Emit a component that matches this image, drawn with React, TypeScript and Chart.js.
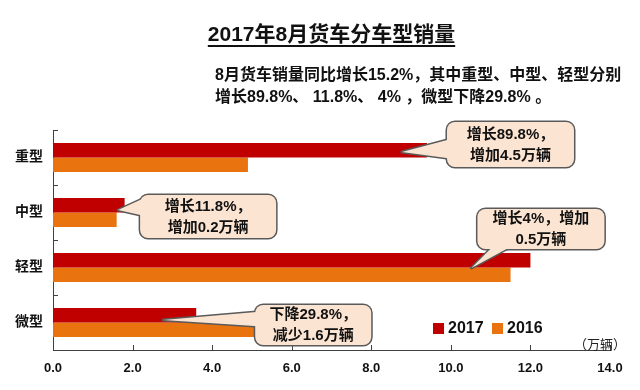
import { useEffect, useRef } from "react";
import { Chart, registerables } from "chart.js";

Chart.register(...registerables);

// ---------- data ----------
const categories = ["重型", "中型", "轻型", "微型"];
const seriesLabels = ["2017", "2016"];
const sales2017 = [9.4, 1.8, 12.0, 3.6];
const sales2016 = [4.9, 1.6, 11.5, 5.2];
const xTickValues = [0, 2, 4, 6, 8, 10, 12, 14];
const titleText = "2017年8月货车分车型销量";
const subtitleLines = [
  "8月货车销量同比增长15.2%，其中重型、中型、轻型分别",
  "增长89.8%、 11.8%、 4% ，微型下降29.8% 。",
];
const calloutTexts = [
  ["增长89.8%，", "增加4.5万辆"],
  ["增长11.8%，", "增加0.2万辆"],
  ["增长4%，增加", "0.5万辆"],
  ["下降29.8%，", "减少1.6万辆"],
];
const unitLabel = "（万辆）";

// ---------- styles / layout ----------
const RED = "#C00000";
const ORANGE = "#E8730F";
const AXIS = "#404040";
const CALLOUT_FILL = "#FBE4D2";
const CALLOUT_BORDER = "#5A5A5A";
const FONT = "'Liberation Sans', 'Noto Sans CJK SC', sans-serif";

// callout geometry: tip relative to (bar end, band center); box relative to tip;
// tail base points relative to box (side, offsets along side)
const calloutLayout = [
  { tip: [-25, -5.5], box: [45, -30, 127, 45], side: "left", base: [18, 36] },
  { tip: [-6.5, -2.5], box: [22, -15, 136, 43], side: "left", base: [5, 20] },
  { tip: [-59, 0.5], box: [6, -59, 127, 40], side: "bottom", base: [13, 29] },
  { tip: [-33, -2.5], box: [92, -15, 116, 40], side: "left", base: [7, 21] },
];

function roundRectPath(ctx: CanvasRenderingContext2D, x: number, y: number, w: number, h: number, r: number) {
  ctx.beginPath();
  ctx.moveTo(x + r, y);
  ctx.lineTo(x + w - r, y);
  ctx.arcTo(x + w, y, x + w, y + r, r);
  ctx.lineTo(x + w, y + h - r);
  ctx.arcTo(x + w, y + h, x + w - r, y + h, r);
  ctx.lineTo(x + r, y + h);
  ctx.arcTo(x, y + h, x, y + h - r, r);
  ctx.lineTo(x, y + r);
  ctx.arcTo(x, y, x + r, y, r);
  ctx.closePath();
}

function drawCallout(
  ctx: CanvasRenderingContext2D,
  tip: { x: number; y: number },
  box: { x: number; y: number; w: number; h: number },
  b1: { x: number; y: number },
  b2: { x: number; y: number },
  lines: string[]
) {
  const ext = (p: { x: number; y: number }) => {
    const dx = p.x - tip.x;
    const dy = p.y - tip.y;
    const L = Math.hypot(dx, dy) || 1;
    return { x: p.x + (dx / L) * 7, y: p.y + (dy / L) * 7 };
  };
  const e1 = ext(b1);
  const e2 = ext(b2);
  const tail = () => {
    ctx.beginPath();
    ctx.moveTo(e1.x, e1.y);
    ctx.lineTo(tip.x, tip.y);
    ctx.lineTo(e2.x, e2.y);
    ctx.closePath();
  };
  ctx.save();
  ctx.lineJoin = "round";
  ctx.strokeStyle = CALLOUT_BORDER;
  ctx.lineWidth = 3;
  roundRectPath(ctx, box.x, box.y, box.w, box.h, 8);
  ctx.stroke();
  tail();
  ctx.stroke();
  ctx.fillStyle = CALLOUT_FILL;
  roundRectPath(ctx, box.x, box.y, box.w, box.h, 8);
  ctx.fill();
  tail();
  ctx.fill();

  ctx.fillStyle = "#111";
  ctx.font = `bold 15px ${FONT}`;
  ctx.textAlign = "center";
  ctx.textBaseline = "middle";
  const cx = box.x + box.w / 2;
  const cy = box.y + box.h / 2 + 0.5;
  const lh = 21;
  lines.forEach((t, i) => {
    ctx.fillText(t, cx, cy + (i - (lines.length - 1) / 2) * lh);
  });
  ctx.restore();
}

const overlayPlugin = {
  id: "overlay",
  afterDraw(chart: any) {
    const ctx: CanvasRenderingContext2D = chart.ctx;
    const xs = chart.scales.x;
    const ys = chart.scales.y;
    const area = chart.chartArea;

    ctx.save();
    // inner tick marks
    ctx.strokeStyle = AXIS;
    ctx.lineWidth = 1;
    ctx.beginPath();
    xTickValues.forEach((v) => {
      if (v === 0) return;
      const x = Math.round(xs.getPixelForValue(v)) + 0.5;
      ctx.moveTo(x, area.bottom);
      ctx.lineTo(x, area.bottom - 5);
    });
    const band = ys.getPixelForValue(1) - ys.getPixelForValue(0);
    categories.forEach((_, i) => {
      const y = Math.round(ys.getPixelForValue(i) - band / 2) + 0.5;
      ctx.moveTo(area.left, y);
      ctx.lineTo(area.left + 5, y);
    });
    ctx.stroke();
    ctx.restore();

    // callouts
    calloutTexts.forEach((lines, i) => {
      const L = calloutLayout[i];
      const endX = xs.getPixelForValue(sales2017[i]);
      const cy = ys.getPixelForValue(i);
      const tip = { x: endX + L.tip[0], y: cy + L.tip[1] };
      const box = { x: tip.x + L.box[0], y: tip.y + L.box[1], w: L.box[2], h: L.box[3] };
      let b1, b2;
      if (L.side === "left") {
        b1 = { x: box.x, y: box.y + L.base[0] };
        b2 = { x: box.x, y: box.y + L.base[1] };
      } else {
        b1 = { x: box.x + L.base[0], y: box.y + box.h };
        b2 = { x: box.x + L.base[1], y: box.y + box.h };
      }
      drawCallout(ctx, tip, box, b1, b2, lines);
    });

    ctx.save();
    // legend
    const colors = [RED, ORANGE];
    const legendX = [area.right - 177, area.right - 118];
    const legendY = area.bottom - 27;
    ctx.font = `bold 16px ${FONT}`;
    ctx.textBaseline = "middle";
    ctx.textAlign = "left";
    seriesLabels.forEach((lab, i) => {
      ctx.fillStyle = colors[i];
      ctx.fillRect(legendX[i], legendY, 11, 11);
      ctx.fillStyle = "#111";
      ctx.fillText(lab, legendX[i] + 15, legendY + 6);
    });

    // unit label
    ctx.font = `13px ${FONT}`;
    ctx.textAlign = "center";
    ctx.fillStyle = "#222";
    ctx.fillText(unitLabel, area.right - 10, area.bottom - 5);

    // title
    ctx.font = `bold 21px ${FONT}`;
    ctx.textAlign = "center";
    ctx.textBaseline = "alphabetic";
    ctx.fillStyle = "#111";
    const tx = 331.5;
    ctx.fillText(titleText, tx, 41);
    const tw = ctx.measureText(titleText).width;
    ctx.fillRect(tx - tw / 2, 45, tw, 2);

    // subtitle
    ctx.font = `bold 16px ${FONT}`;
    ctx.textAlign = "left";
    subtitleLines.forEach((s, i) => {
      ctx.fillText(s, 215, 80 + i * 22);
    });
    ctx.restore();
  },
};

export default function App() {
  const ref = useRef<HTMLCanvasElement | null>(null);

  useEffect(() => {
    document.body.style.margin = "0";
    const canvas = ref.current;
    if (!canvas) return;
    const chart = new Chart(canvas, {
      type: "bar",
      data: {
        labels: categories,
        datasets: [
          {
            label: seriesLabels[0],
            data: sales2017,
            backgroundColor: RED,
            categoryPercentage: 0.53,
            barPercentage: 1.0,
          },
          {
            label: seriesLabels[1],
            data: sales2016,
            backgroundColor: ORANGE,
            categoryPercentage: 0.53,
            barPercentage: 1.0,
          },
        ],
      },
      options: {
        indexAxis: "y",
        animation: false,
        responsive: false,
        maintainAspectRatio: false,
        layout: { padding: { top: 130, right: 30, left: 0, bottom: 0 } },
        plugins: {
          legend: { display: false },
          tooltip: { enabled: false },
          title: { display: false },
        },
        scales: {
          x: {
            type: "linear",
            min: 0,
            max: 14,
            afterBuildTicks: (scale: any) => {
              scale.ticks = xTickValues.map((v) => ({ value: v }));
            },
            ticks: {
              callback: (v: any) => Number(v).toFixed(1),
              font: { family: FONT, size: 13, weight: "bold" },
              color: "#111",
              padding: 11,
              maxRotation: 0,
              autoSkip: false,
            },
            grid: { display: false, drawTicks: false },
            border: { display: true, color: AXIS, width: 1 },
            afterFit: (scale: any) => {
              scale.height = 40;
            },
          },
          y: {
            ticks: {
              font: { family: FONT, size: 14, weight: "bold" },
              color: "#111",
              padding: 10,
            },
            grid: { display: false, drawTicks: false },
            border: { display: true, color: AXIS, width: 1 },
            afterFit: (scale: any) => {
              scale.width = 53;
            },
          },
        },
      } as any,
      plugins: [overlayPlugin],
    });
    return () => chart.destroy();
  }, []);

  return (
    <div style={{ width: 640, height: 390, background: "#fff" }}>
      <canvas ref={ref} width={640} height={390} style={{ display: "block" }} />
    </div>
  );
}
